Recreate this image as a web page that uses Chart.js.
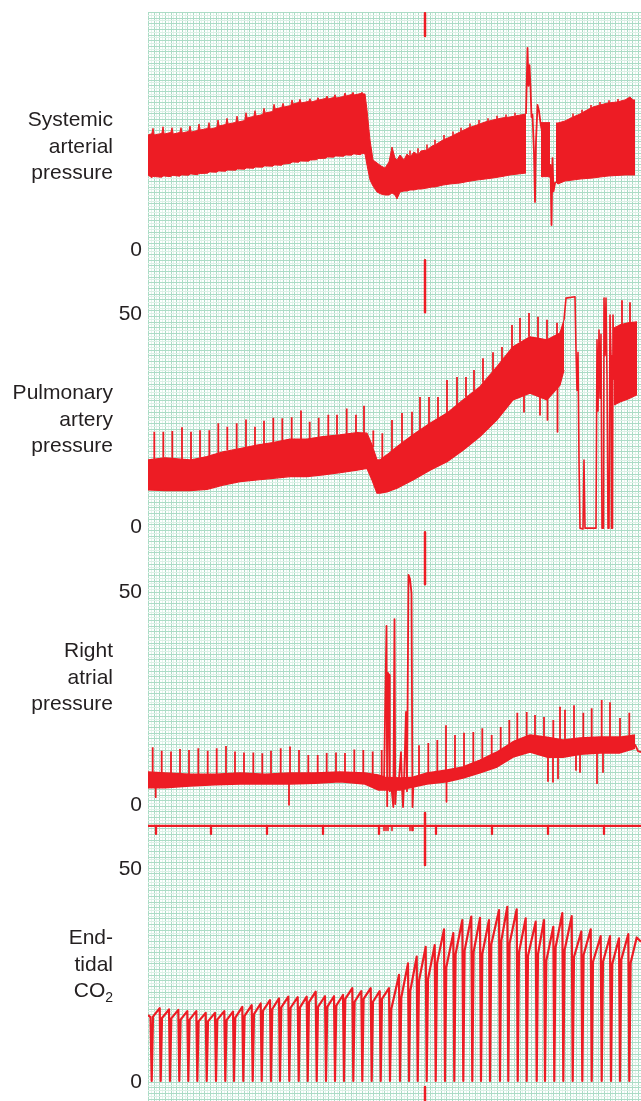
<!DOCTYPE html>
<html>
<head>
<meta charset="utf-8">
<title>Haemodynamic recording</title>
<script src="https://cdn.jsdelivr.net/npm/chart.js@4.4.1/dist/chart.umd.min.js"></script>
<style>
  html, body { margin: 0; padding: 0; background: #fff; }
  canvas { display: block; }
</style>
</head>
<body>
<canvas id="traces" width="641" height="1101"></canvas>
<script>
// time is in seconds from the left edge of the paper, pressures in mmHg

// systemic arterial pressure: envelope of the band (before the artefact)
const sapTimeA = [0,3.8,5,6.2,13.8,15,16.2,22.8,24,25.2,31.8,33,34.2,40.8,42,43.2,49.8,51,52.2,59.8,61,62.2,68.8,70,71.2,77.8,79,80.2,87.8,89,90.2,96.8,98,99.2,105.8,107,108.2,114.8,116,117.2,124.8,126,127.2,133.8,135,136.2,142.8,144,145.2,150.8,152,153.2,160.8,162,163.2,168.8,170,171.2,177.8,179,180.2,185.8,187,188.2,195.8,197,198.2,203.8,205,206.2,212.8,214,215.2,
  217,219,222,225,229,233,237,241,244,247,249,252,256,259,262,266,270,273,279,284,287,295,302,312,320,329,337,345,354,362,370,378];
const sapHighA = [95,96,100.6,95,96.3,101.9,95.8,97.1,101.1,95.8,97.1,101.1,96.7,98,102.5,97.5,98.8,104.2,99.2,100.5,105.3,100,101.3,107.5,102.5,103.8,108.9,104.2,105.5,110.8,105.8,107.1,113.6,109.2,110.5,115.3,110.8,112.1,117.3,113.3,114.6,120.6,116.7,118,121.4,118.3,119.6,124.2,120.8,122.1,124.8,121.7,123,125.3,122.5,123.8,126.1,124.2,125.5,127.5,125,126.3,128.6,125.8,127.1,130,127.5,128.8,130.6,128.3,129.6,130.6,129.2,
  129.2,115.8,90.8,74.2,71.7,69.2,67.5,72.5,85,75.8,74.2,78.3,74.2,79.2,76.7,80.8,78.3,81.7,82.5,85.8,86.7,90.8,93.3,97.5,100.8,103.3,105.8,107.5,109.2,110,111.3,112.5];
const sapLowA = [61.7,59.4,60.4,60.4,59.8,60.8,60.8,60.3,61.3,61.3,60.7,61.7,61.7,61.5,62.5,62.5,61.9,62.9,62.9,63.2,64.2,64.2,64,65,65,64.8,65.8,65.8,65.7,66.7,66.7,66.5,67.5,67.5,67.3,68.3,68.3,68.2,69.2,69.2,69,70,70,69.8,70.8,70.8,71.5,72.5,72.5,72.3,73.3,73.3,73.2,74.2,74.2,74.4,75.4,75.4,75.7,76.7,76.7,76.5,77.5,77.5,77.3,78.3,78.3,78.2,79.2,79.2,78.6,79.6,79.6,
  79.2,70,57.5,52.5,47.5,45.8,45,45,46.7,45,41.7,47.5,48.3,48.3,49.2,49.2,50,50,50.8,51.7,51.7,53.3,54.2,55,56.3,57.5,58.3,59.2,60.4,61.7,62.5,63.3];
// short block inside the artefact
const sapTimeB = [393, 402];
const sapHighB = [105.3, 105.3];
const sapLowB = [60.3, 60.3];
// band after the artefact
const sapTimeC = [408,410,417,425,432,439,445,452,460,469,477,482,485,487];
const sapHighC = [105,105,106.7,110,112.5,115.8,118.3,120,121.7,122.5,124.2,126.7,124.2,124.2];
const sapLowC = [55.8,54.2,56.7,57.5,58.3,58.8,59.2,60,60.8,61.3,61.7,61.7,61.7,61.7];
// artefact trace
const sapArtT = [378,379.5,380.5,381.5,382.5,383.5,384.5,386,387,388,389.5,391,392.5,402,402.5,403.5,404.5,405.5,407,408];
const sapArtV = [112.5,167.5,136,153.3,135,110,112,80,39.2,90,120,115,105,60,70,20,75.8,48,55,55.8];
// small systolic peaks on the recovering band
const sapSpikeT = [262,270,279,287,296,305,313,322,331,340,349,358,367,425,434,443,452,461,470];
const sapSpikeFrom = [76.7,78.3,82.5,86.7,91,94,97.5,101,104,106,108,109.5,111,110,113,117,120,121.7,122.5];
const sapSpikeTo = [82,84,87,91,95,98,101,104.5,107.5,109,111,112,113.5,113,116,120,122.5,124,125];

// pulmonary artery pressure
const papTimeA = [0,17,42,59,75,92,109,125,142,159,175,192,209,219,224,229,232,239,249,265,282,299,315,332,349,365,382,399,412,416];
const papHighA = [15.5,16.0,15.5,16.3,17.4,18.2,19.0,19.6,20.4,20.4,21.0,21.4,21.9,21.8,19.0,15.5,15.5,16.7,18.6,21.4,24.1,26.5,29.6,32.7,37.4,42.1,44.4,43.7,45.3,48.4];
const papLowA = [8.45,8.3,8.3,8.6,9.6,10.4,10.8,11.2,11.6,11.6,12.0,12.5,13.1,13.5,10.8,7.7,7.7,8.0,8.85,10.8,13.1,15.1,17.8,21.0,24.9,29.6,31.2,29.6,33.1,36.6];
const papTimeC = [466, 472, 480, 489];
const papHighC = [46.5, 47.2, 47.7, 47.9];
const papLowC = [28.4, 29.1, 29.8, 30.8];
const papArtT = [416,418,427,428,429,430,431,432,435,436,437,448,449,450,451,452,453,454,455.5,456,457,458,459,460,461,462,463,463.5,464.5,465,466];
const papArtV = [48.4,53.5,53.8,41.3,31.9,40.8,15.5,-0.5,-0.7,15.5,-0.5,-0.5,43.7,27,46,30,45,-0.5,-0.5,53.5,40,53.5,35,-0.5,-0.5,49.5,40,-0.5,-0.5,49.5,34.3];
// systolic spikes and dips: time, start, end
const papSpikeT = [6.3,15.3,24.3,34,43,52,61.3,70.3,79.3,88.7,98,107,116,125.3,134.3,143.7,153,161.7,170.7,180.3,189,198.7,208,216,225.3,234.3,244,254,264,272,281,290,299,309,318,326,335,345,354,364,372,381,390,399,409,376,392,399.5,409.5,474,482];
const papSpikeFrom = [15.7,16.0,15.7,15.5,15.5,16.0,16.4,17.1,17.8,18.1,18.5,19.0,19.2,19.5,20.0,20.4,20.4,20.4,20.9,21.1,21.4,21.6,21.8,21.8,18.5,15.5,17.4,19.2,20.9,22.5,23.9,25.1,26.5,28.4,30.3,31.7,33.6,36.2,38.5,41.8,43.2,44.4,44.1,43.7,44.6,30.8,30.3,29.6,33,47.2,47.7];
const papSpikeTo = [22.1,22.1,22.3,23.2,22.1,22.5,22.5,24.1,23.3,24.1,25.0,23.3,24.7,25.4,25.3,25.5,27.1,24.5,25.4,26.1,26.1,27.6,26.1,28.2,22.4,21.8,24.9,26.5,26.8,30.3,30.3,30.3,34.3,35.0,35.0,36.6,39.4,40.8,42.0,47.2,48.8,50.0,49.1,48.4,47.7,26.8,26.1,24.9,22.1,53.0,52.5];

// right atrial pressure
const raTime = [0,17,42,67,92,117,142,167,192,217,230,237,252,265,279,299,315,332,349,365,382,399,415,432,452,472,487];
const raHigh = [7.5,7.3,7.0,7.0,7.3,7.0,7.3,7.3,7.5,7.3,6.8,6.3,6.1,6.3,7.3,8.0,8.7,10.3,12.2,14.6,16.2,15.7,15.0,15.5,15.7,15.7,16.2];
const raLow = [3.8,3.8,4.2,4.5,4.7,4.7,4.7,4.9,5.2,4.7,3.3,3.3,3.3,4.0,4.7,5.2,6.1,7.3,8.7,11.0,12.2,11.0,11.0,11.7,12.0,12.0,13.1];
const raArtT = [236,238.5,239.2,240,241,241.8,243,245.3,246.5,247.3,248.5,251,253,254,255,256,258,259,260.5,262,263.5,264.5,265.5,267];
const raArtV = [5,41.8,-0.5,30.8,30.3,3,5,-0.7,43.4,0,5,6,12.2,4,-0.7,5,21.6,3,53.8,52.8,49.5,-0.7,5,6.3];
const raTailT = [487, 490, 493];
const raTailV = [14, 12.4, 12.2];
const raSpikeT = [4.7,13.7,23,32,41,50.3,59.7,68.7,78,87,96,105.3,114.3,123,132.7,142,151,160.3,169.7,178.7,188,197,206.3,215.3,224.7,233.7,271,280.3,289.3,298,307,316,325.3,334.3,343.7,352.7,361.3,369.3,378.7,387,396,405.3,412,417,426,435.3,443.7,453.7,462,472,481.3,7.7,141,298.5,400,405,410,428,432,449,455];
const raSpikeFrom = [7.4,7.3,7.2,7.1,7.0,7.0,7.0,7.0,7.1,7.2,7.2,7.1,7.0,7.1,7.2,7.3,7.3,7.3,7.3,7.4,7.5,7.4,7.4,7.3,7.0,6.5,6.5,7.3,7.6,8.0,8.2,8.7,9.6,10.6,11.5,12.5,13.8,14.6,15.7,16.0,15.8,15.3,15.0,15.0,15.3,15.5,15.6,15.7,15.7,15.7,16.0,4.0,4.7,5.2,11.0,11.0,11.0,11.5,11.7,12.0,12.0];
const raSpikeTo = [13.3,12.5,12.3,12.9,12.7,13.1,12.5,13.1,13.6,12.3,12.1,12.1,11.9,12.5,13.1,13.5,12.7,11.5,11.5,12.0,12.1,12.0,12.8,12.7,12.3,12.7,13.8,14.3,15.0,18.5,16.2,16.7,16.9,17.8,16.2,18.1,19.7,21.4,21.6,20.9,20.4,19.7,22.8,22.1,23.2,21.4,22.5,24.4,23.9,20.2,21.4,1.6,-0.2,0.5,5.4,5.2,6.0,8.0,7.5,4.9,7.5];

// end-tidal CO2, one breath per trough
const co2LeadT = [0, 2.5];
const co2LeadV = [15.5, 15.0];
const co2TroughT = [3.7,12.7,22,31.3,40.3,49.3,58.7,68,77.3,86,95.3,104.7,113.7,123,132,141.3,150.7,159.7,168.7,178,187,196,205.3,214.3,223.7,232.7,242,252,261,269.7,278.7,287.7,297,306.3,315.3,324.3,333,342,352,360.3,369.7,378.7,388.7,397,406.3,415.3,424.7,434.3,443.7,453.7,463,472,481.3];
const co2KneeV = [15.1,14.8,14.7,14.4,14.4,14.0,14.0,14.4,14.3,14.9,15.3,15.7,16.5,16.9,17.3,17.2,17.3,18.5,17.4,17.4,17.7,19.3,18.6,19.3,18.6,19.3,16.9,19.6,21.2,23.5,23.9,27.6,26.7,29.8,30.6,30.3,29.8,32.1,32.9,32.3,30.2,29.4,29.8,28.2,31.4,30.7,29.1,29.6,28.0,28.0,27.5,28.5,27.7];
const co2PeakV = [17.1,16.8,16.7,16.4,16.4,16.0,16.0,16.4,16.3,17.4,17.8,18.2,19.0,19.4,19.8,19.7,19.8,21.0,19.9,19.9,20.2,21.8,21.1,21.8,21.1,21.8,24.9,27.6,29.2,31.5,31.9,35.6,34.7,37.8,38.6,38.3,37.8,40.1,40.9,40.3,38.2,37.4,37.8,36.2,39.4,38.7,35.1,35.6,34.0,34.0,33.5,34.5,33.7];
const co2TailT = [488.7, 493];
const co2TailV = [33.7, 32.7];

// recorder marks: event marker, timing line with its ticks
const eventT = [277];
const timeLineT = [0, 493];
const timeLineV = [59.9, 59.9];
const timeTickT = [8, 63, 119, 175, 231, 288, 344, 400, 456];
const minorTickT = [236, 238, 240, 244, 262, 264, 265];

// left-hand labels
const sysTitle = ["Systemic", "arterial", "pressure"];
const papTitle = ["Pulmonary", "artery", "pressure"];
const raTitle = ["Right", "atrial", "pressure"];
const co2Title = ["End-", "tidal", "CO"];
const sysTicks = [0];
const papTicks = [0, 50];
const raTicks = [0, 50];
const co2Ticks = [0, 50];

const RED = "#ed1c24";
const INK = "#231f20";

function xy(ts, vs) {
  return ts.map((t, i) => ({ x: t, y: vs[i] }));
}

function line(data, axis, width) {
  return {
    data: data,
    yAxisID: axis,
    borderColor: RED,
    backgroundColor: RED,
    borderWidth: width,
    pointRadius: 0,
    fill: false,
    tension: 0,
    spanGaps: false,
    borderJoinStyle: "round",
  };
}

function band(ts, lo, hi, axis, width) {
  const top = line(xy(ts, hi), axis, width);
  top.fill = "-1";
  return [line(xy(ts, lo), axis, width), top];
}

// vertical strokes, separated by gaps
function strokes(ts, from, to, axis, width) {
  const pts = [];
  ts.forEach((t, i) => {
    const a = Array.isArray(from) ? from[i] : from;
    const b = Array.isArray(to) ? to[i] : to;
    pts.push({ x: t, y: a }, { x: t, y: b }, { x: t, y: null });
  });
  return line(pts, axis, width);
}

function co2Points() {
  const pts = xy(co2LeadT, co2LeadV);
  co2TroughT.forEach((t, i) => {
    const end = i + 1 < co2TroughT.length ? co2TroughT[i + 1] - 1 : co2TailT[0];
    pts.push({ x: t, y: 0 });
    pts.push({ x: t + 1.3, y: co2KneeV[i] });
    pts.push({ x: end, y: co2PeakV[i] });
  });
  pts.push({ x: co2TailT[1], y: co2TailV[1] });
  return pts;
}

// chart paper: squares of 5.63 s with a fainter line in between
const paperGrid = {
  id: "paperGrid",
  beforeDatasetsDraw(chart) {
    const { ctx, chartArea } = chart;
    const x = chart.scales.x;
    const step = 5.63 / 2;
    ctx.save();
    ctx.lineWidth = 1;
    for (let i = 0; ; i++) {
      const px = Math.round(x.getPixelForValue(i * step)) + 0.5;
      if (px > chartArea.right) break;
      ctx.strokeStyle = i % 2 ? "#e4f4ec" : "#acdcc6";
      ctx.beginPath();
      ctx.moveTo(px, chartArea.top);
      ctx.lineTo(px, chartArea.bottom);
      ctx.stroke();
    }
    const pxPerSec = x.getPixelForValue(1) - x.getPixelForValue(0);
    for (let i = 0; ; i++) {
      const py = Math.round(chartArea.top + i * step * pxPerSec) + 0.5;
      if (py > chartArea.bottom) break;
      ctx.strokeStyle = i % 2 ? "#dcf1e6" : "#acdcc6";
      ctx.beginPath();
      ctx.moveTo(chartArea.left, py);
      ctx.lineTo(chartArea.right, py);
      ctx.stroke();
    }
    ctx.restore();
  },
};

const panelLabels = {
  id: "panelLabels",
  afterDraw(chart) {
    const ctx = chart.ctx;
    const font = '21px "Liberation Sans", Arial, sans-serif';
    ctx.save();
    ctx.fillStyle = INK;
    ctx.font = font;

    // scale values
    ctx.textAlign = "right";
    ctx.textBaseline = "middle";
    [["ySys", sysTicks], ["yPap", papTicks], ["yRa", raTicks], ["yCo2", co2Ticks]].forEach(([id, ticks]) => {
      ticks.forEach((v) => {
        ctx.fillText(String(v), 142, chart.scales[id].getPixelForValue(v) + 1);
      });
    });

    // titles
    ctx.textBaseline = "alphabetic";
    const titles = [
      [sysTitle, [126, 152.5, 179]],
      [papTitle, [399, 425.5, 452]],
      [raTitle, [657, 683.5, 710]],
    ];
    titles.forEach(([lines, ys]) => {
      lines.forEach((s, i) => ctx.fillText(s, 113, ys[i]));
    });
    ctx.fillText(co2Title[0], 113, 944);
    ctx.fillText(co2Title[1], 113, 970.5);
    ctx.font = '14px "Liberation Sans", Arial, sans-serif';
    const subW = ctx.measureText("2").width;
    ctx.fillText("2", 113, 1002);
    ctx.font = font;
    ctx.fillText(co2Title[2], 113 - subW, 997);
    ctx.restore();
  },
};

const datasets = [
  // systemic
  ...band(sapTimeA, sapLowA, sapHighA, "ySys", 1),
  ...band(sapTimeB, sapLowB, sapHighB, "ySys", 1),
  ...band(sapTimeC, sapLowC, sapHighC, "ySys", 1),
  line(xy(sapArtT, sapArtV), "ySys", 1.8),
  strokes(sapSpikeT, sapSpikeFrom, sapSpikeTo, "ySys", 1.6),
  // pulmonary
  ...band(papTimeA, papLowA, papHighA, "yPap", 1.2),
  ...band(papTimeC, papLowC, papHighC, "yPap", 1.2),
  line(xy(papArtT, papArtV), "yPap", 1.6),
  strokes(papSpikeT, papSpikeFrom, papSpikeTo, "yPap", 1.8),
  // right atrial
  ...band(raTime, raLow, raHigh, "yRa", 1.5),
  line(xy(raArtT, raArtV), "yRa", 1.8),
  line(xy(raTailT, raTailV), "yRa", 1.8),
  strokes(raSpikeT, raSpikeFrom, raSpikeTo, "yRa", 1.8),
  // end-tidal CO2
  line(co2Points(), "yCo2", 2.2),
  // recorder marks
  strokes(eventT, 196.5, 177.5, "ySys", 2.5),
  strokes(eventT, 62.4, 50.2, "yPap", 2.5),
  strokes(eventT, 63.8, 51.6, "yRa", 2.5),
  strokes(eventT, 62.9, 50.7, "yCo2", 2.5),
  strokes(eventT, -1.4, -5, "yCo2", 2.5),
  line(xy(timeLineT, timeLineV), "yCo2", 2.3),
  strokes(timeTickT, 59.9, 58.0, "yCo2", 2.3),
  strokes(minorTickT, 59.9, 58.8, "yCo2", 1.6),
];

new Chart(document.getElementById("traces"), {
  type: "line",
  data: { datasets: datasets },
  options: {
    responsive: false,
    animation: false,
    devicePixelRatio: 1,
    events: [],
    layout: { padding: { left: 148, top: 12, right: 0, bottom: 0 } },
    plugins: { legend: { display: false }, tooltip: { enabled: false } },
    scales: {
      x: { type: "linear", min: 0, max: 493, display: false },
      // each channel uses the full paper height; min/max place its 0 and 50 lines
      ySys: { type: "linear", min: -710, max: 197.5, display: false },
      yPap: { type: "linear", min: -134.98, max: 120.66, display: false },
      yRa: { type: "linear", min: -69.72, max: 185.92, display: false },
      yCo2: { type: "linear", min: -4.69, max: 250.94, display: false },
    },
  },
  plugins: [paperGrid, panelLabels],
});
</script>
</body>
</html>
